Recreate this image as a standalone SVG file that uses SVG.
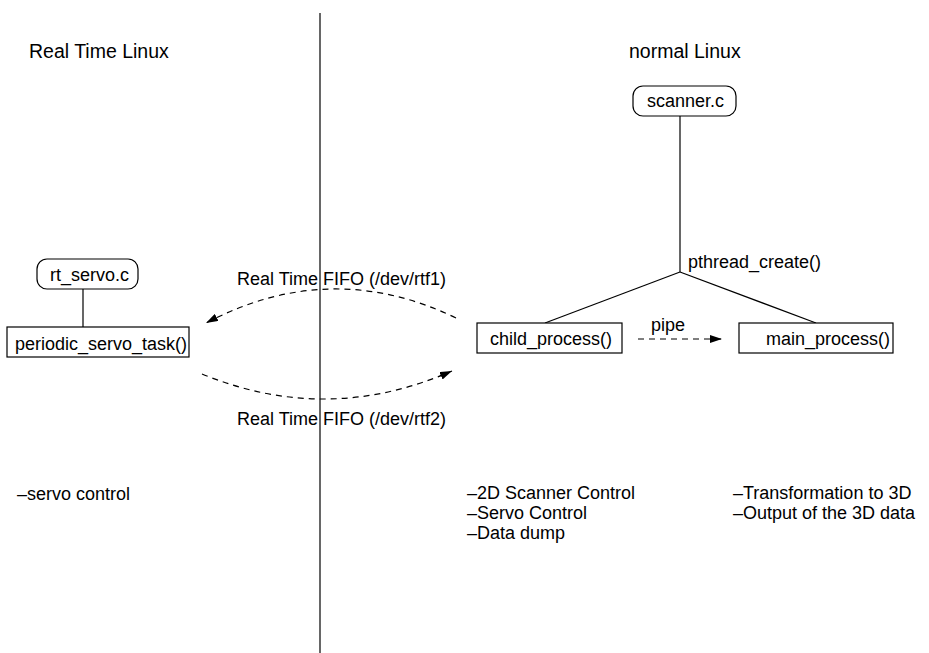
<svg xmlns="http://www.w3.org/2000/svg" width="929" height="653" viewBox="0 0 929 653">
<defs>
<style>
text{font-family:"Liberation Sans",Arial,sans-serif;font-size:18px;fill:#000}
.title{font-size:19.5px}
.box{fill:#fff;stroke:#000;stroke-width:1.2}
.ln{fill:none;stroke:#000;stroke-width:1.2}
.dash{fill:none;stroke:#000;stroke-width:1.2;stroke-dasharray:6 5}
</style>
<marker id="ah" markerUnits="userSpaceOnUse" markerWidth="12" markerHeight="8" refX="12" refY="4" orient="auto">
<path d="M0,0 L12,4 L0,8 z" fill="#000"/>
</marker>
</defs>
<rect width="929" height="653" fill="#fff"/>
<line x1="320" y1="13" x2="320" y2="653" class="ln" stroke-width="1.4"/>
<text class="title" x="29" y="58">Real Time Linux</text>
<text class="title" x="629" y="58">normal Linux</text>
<g id="connectors">
<line x1="83" y1="289" x2="83" y2="327" class="ln"/>
<line x1="680" y1="116" x2="680" y2="272" class="ln"/>
<line x1="680" y1="272" x2="545" y2="323" class="ln"/>
<line x1="680" y1="272" x2="816" y2="323" class="ln"/>
<path d="M456,318 Q331,257.5 206,323" class="dash" marker-end="url(#ah)"/>
<path d="M202,374 Q327,425.5 452,371" class="dash" marker-end="url(#ah)"/>
<line x1="638" y1="339" x2="722" y2="339" class="dash" marker-end="url(#ah)"/>
<text x="688" y="268">pthread_create()</text>
<text x="651" y="331">pipe</text>
<text x="237" y="285">Real Time FIFO (/dev/rtf1)</text>
<text x="237" y="425">Real Time FIFO (/dev/rtf2)</text>
</g>
<g id="rt_servo">
<rect x="37" y="259" width="101" height="30" rx="10" class="box"/>
<text x="50" y="281">rt_servo.c</text>
</g>
<g id="periodic_servo_task">
<rect x="7" y="327" width="182" height="30" class="box"/>
<text x="15" y="350">periodic_servo_task()</text>
</g>
<g id="scanner">
<rect x="633" y="86" width="103" height="30" rx="10" class="box"/>
<text x="647" y="107">scanner.c</text>
</g>
<g id="child_process">
<rect x="477" y="323" width="145" height="30" class="box"/>
<text x="490" y="345">child_process()</text>
</g>
<g id="main_process">
<rect x="739" y="323" width="154" height="30" class="box"/>
<text x="766" y="345">main_process()</text>
</g>
<g id="notes">
<text x="17" y="500">–servo control</text>
<text x="467" y="499">–2D Scanner Control</text>
<text x="467" y="519">–Servo Control</text>
<text x="467" y="539">–Data dump</text>
<text x="733" y="499">–Transformation to 3D</text>
<text x="733" y="519">–Output of the 3D data</text>
</g>
</svg>
